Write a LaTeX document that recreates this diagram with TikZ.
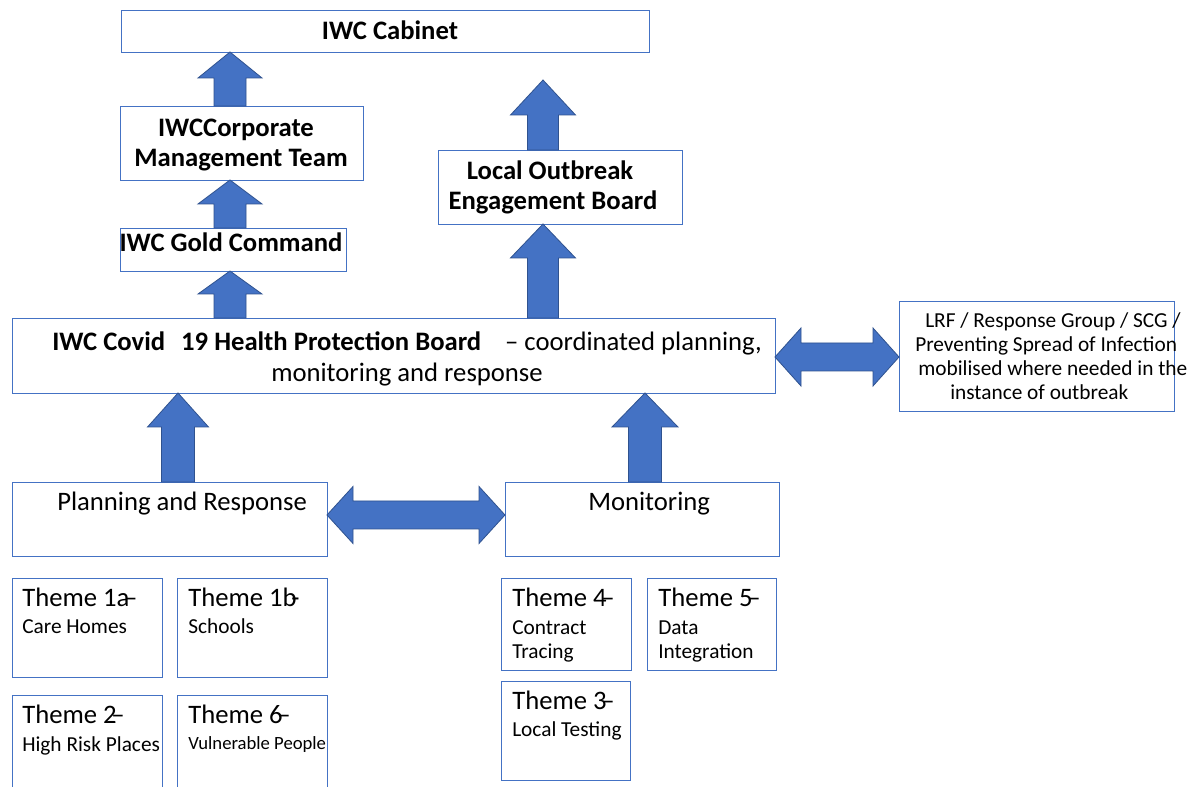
\documentclass[tikz,border=0pt]{standalone}
\usepackage{fontspec}
\setmainfont{Carlito}
\usetikzlibrary{calc}
\definecolor{arrfill}{RGB}{68,114,196}
\definecolor{arrline}{RGB}{47,82,143}
\definecolor{boxline}{RGB}{68,114,196}
\tikzset{
  box/.style={draw=boxline, line width=0.6pt, fill=white, inner sep=0pt, outer sep=0pt},
  blk/.style={fill=arrfill, draw=arrline, line width=0.6pt, line join=miter},
  big/.style={font=\fontsize{20}{24}\selectfont, inner sep=0pt},
  bigb/.style={font=\fontsize{20}{24}\selectfont\bfseries, inner sep=0pt},
  mid/.style={font=\fontsize{16}{19}\selectfont, inner sep=0pt},
  sml/.style={font=\fontsize{14}{17}\selectfont, inner sep=0pt},
  lrf/.style={font=\fontsize{16}{19}\selectfont, inner sep=0pt},
}
\newcommand\mybox[5]{\node[box, minimum width={(#4-#2)*0.75pt}, minimum height={(#5-#3)*0.75pt}] (#1) at ({(#2+#4)/2},{(#3+#5)/2}) {};}
% up arrow: #1 x, #2 from point, #3 to point, #4 shaft half, #5 head half, #6 head length (px)
\newcommand\uparr[6]{%
  \filldraw[blk] let \p3=(#1,0), \p1=(#2), \p2=(#3) in
  ({\x3-#4*0.75pt},\y1) -- ({\x3-#4*0.75pt},{\y2-#6*0.75pt}) -- ({\x3-#5*0.75pt},{\y2-#6*0.75pt}) -- (\x3,\y2)
  -- ({\x3+#5*0.75pt},{\y2-#6*0.75pt}) -- ({\x3+#4*0.75pt},{\y2-#6*0.75pt}) -- ({\x3+#4*0.75pt},\y1) -- cycle;}
% double arrow: #1 y, #2 left point, #3 right point, #4 shaft half, #5 head half, #6 head len
\newcommand\dblarr[6]{%
  \filldraw[blk] let \p3=(0,#1), \p1=(#2), \p2=(#3) in
  (\x1,\y3) -- ({\x1+#6*0.75pt},{\y3+#5*0.75pt}) -- ({\x1+#6*0.75pt},{\y3+#4*0.75pt})
  -- ({\x2-#6*0.75pt},{\y3+#4*0.75pt}) -- ({\x2-#6*0.75pt},{\y3+#5*0.75pt}) -- (\x2,\y3)
  -- ({\x2-#6*0.75pt},{\y3-#5*0.75pt}) -- ({\x2-#6*0.75pt},{\y3-#4*0.75pt})
  -- ({\x1+#6*0.75pt},{\y3-#4*0.75pt}) -- ({\x1+#6*0.75pt},{\y3-#5*0.75pt}) -- cycle;}
\begin{document}
\begin{tikzpicture}[x=0.75pt,y=-0.75pt]
\useasboundingbox[fill=white] (0,0) rectangle (1197,787);
% boxes
\mybox{cab}{121}{10}{649}{52}
\mybox{cmt}{120}{106}{363}{180}
\mybox{gold}{120}{228}{346}{271}
\mybox{loeb}{438}{150}{682}{224}
\mybox{hpb}{12}{318}{775}{393}
\mybox{lrf}{899}{301}{1174}{411}
\mybox{plan}{12}{482}{327}{556}
\mybox{mon}{505}{482}{779}{556}
\mybox{t1a}{12}{578}{162}{677}
\mybox{t1b}{177}{578}{327}{677}
\mybox{t2}{12}{695}{162}{795}
\mybox{t6}{177}{695}{327}{795}
\mybox{t4}{501}{578}{631}{670}
\mybox{t5}{647}{578}{776}{670}
\mybox{t3}{501}{681}{630}{780}
\coordinate (loebtip) at (543,80);
% arrows
\uparr{230}{cmt.north}{cab.south}{16}{32}{26}
\uparr{230}{gold.north}{cmt.south}{16}{32}{24}
\uparr{230}{hpb.north}{gold.south}{16}{32}{23}
\uparr{543}{loeb.north}{loebtip}{15.5}{32.5}{35}
\uparr{543}{hpb.north}{loeb.south}{15.5}{32.5}{34}
\uparr{178}{plan.north}{hpb.south}{16.5}{30.5}{34}
\uparr{645}{mon.north}{hpb.south}{16.5}{33}{34}
\dblarr{357}{hpb.east}{lrf.west}{14}{29}{26}
\dblarr{515}{plan.east}{mon.west}{14}{28.5}{26}
% texts
\node[bigb, anchor=base] (tcab) at (390,40) {IWC Cabinet};
\node[bigb, anchor=base] (tcmt1) at (236,137) {IWCCorporate};
\node[bigb, anchor=base] (tcmt2) at (241,167) {Management Team};
\node[bigb, anchor=base] (tgold) at (231,252) {IWC Gold Command};
\node[bigb, anchor=base] (tloeb1) at (550,180) {Local Outbreak};
\node[bigb, anchor=base] (tloeb2) at (553,210) {Engagement Board};
\node[big, anchor=base west] (thpb1) at (52,351) {\textbf{IWC Covid}\hspace{12pt}\textbf{19 Health Protection Board}\hspace{18pt}– coordinated planning,};
\node[big, anchor=base] (thpb2) at (407,382) {monitoring and response};
\node[lrf, anchor=base west] (tlrf1) at (925,328) {LRF / Response Group / SCG /};
\node[lrf, anchor=base west] (tlrf2) at (915,352) {Preventing Spread of Infection};
\node[lrf, anchor=base west] (tlrf3) at (918,376) {mobilised where needed in the};
\node[lrf, anchor=base west] (tlrf4) at (950,400) {instance of outbreak};
\node[big, anchor=base west] (tplan) at (57,511) {Planning and Response};
\node[big, anchor=base west] (tmon) at (588,511) {Monitoring};
\node[big, anchor=base west] (tt1a) at (22,607) {Theme 1a\kern-0.2em–};
\node[mid, anchor=base west] (st1a) at (22,634) {Care Homes};
\node[big, anchor=base west] (tt1b) at (188,607) {Theme 1b\kern-0.2em-};
\node[mid, anchor=base west] (st1b) at (188,634) {Schools};
\node[big, anchor=base west] (tt2) at (22,724) {Theme 2\kern-0.2em–};
\node[mid, anchor=base west] (st2) at (22,752) {High Risk Places};
\node[big, anchor=base west] (tt6) at (188,724) {Theme 6\kern-0.2em–};
\node[sml, anchor=base west] (st6) at (188,750) {Vulnerable People};
\node[big, anchor=base west] (tt4) at (512,607) {Theme 4\kern-0.2em–};
\node[mid, anchor=base west] (st4a) at (512,635) {Contract};
\node[mid, anchor=base west] (st4b) at (512,659) {Tracing};
\node[big, anchor=base west] (tt5) at (658,607) {Theme 5\kern-0.2em–};
\node[mid, anchor=base west] (st5a) at (658,635) {Data};
\node[mid, anchor=base west] (st5b) at (658,659) {Integration};
\node[big, anchor=base west] (tt3) at (512,710) {Theme 3\kern-0.2em–};
\node[mid, anchor=base west] (st3) at (512,737) {Local Testing};
\end{tikzpicture}
\end{document}
